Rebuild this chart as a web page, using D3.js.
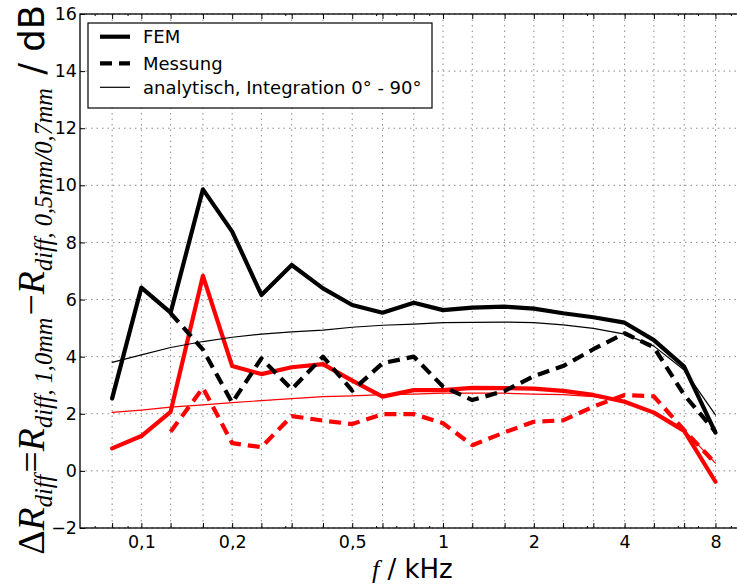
<!DOCTYPE html>
<html>
<head>
<meta charset="utf-8">
<script src="https://cdn.jsdelivr.net/npm/d3@7"></script>
<style>
  html, body { margin: 0; padding: 0; background: #fff; }
  svg { display: block; }
</style>
</head>
<body>
<svg id="chart" width="737" height="585"></svg>
<script>
// ---------------- data ----------------
const freqs = [0.08, 0.1, 0.125, 0.16, 0.2, 0.25, 0.315, 0.4, 0.5, 0.63, 0.8, 1, 1.25, 1.6, 2, 2.5, 3.15, 4, 5, 6.3, 8];
const xTickLabels = {0.1: "0,1", 0.2: "0,2", 0.5: "0,5", 1: "1", 2: "2", 4: "4", 8: "8"};
const xMinorTicks = [0.07, 0.09, 0.3, 0.6, 0.7, 0.9, 3, 6, 7, 9];
const yTicks = [-2, 0, 2, 4, 6, 8, 10, 12, 14, 16];

const femBlack = [2.54, 6.42, 5.54, 9.86, 8.38, 6.16, 7.21, 6.39, 5.81, 5.54, 5.89, 5.63, 5.72, 5.75, 5.68, 5.52, 5.38, 5.19, 4.58, 3.65, 1.34];
const femRed   = [0.79, 1.22, 2.07, 6.83, 3.67, 3.39, 3.63, 3.74, 3.16, 2.60, 2.83, 2.83, 2.91, 2.90, 2.88, 2.80, 2.66, 2.42, 2.04, 1.40, -0.38];
const messBlack = [null, null, 5.52, 4.25, 2.39, 3.94, 2.86, 4.00, 2.81, 3.77, 4.00, 2.95, 2.48, 2.80, 3.32, 3.67, 4.26, 4.82, 4.33, 2.66, 1.37];
const messRed   = [null, null, 1.37, 2.91, 0.97, 0.83, 1.92, 1.76, 1.64, 1.99, 1.99, 1.67, 0.90, 1.35, 1.72, 1.77, 2.25, 2.66, 2.61, 1.43, 0.26];
const anaBlack = [3.80, 4.06, 4.32, 4.53, 4.68, 4.79, 4.87, 4.93, 5.03, 5.10, 5.14, 5.19, 5.20, 5.21, 5.19, 5.11, 4.99, 4.79, 4.37, 3.53, 1.96];
const anaRed   = [2.05, 2.13, 2.23, 2.31, 2.39, 2.46, 2.53, 2.60, 2.63, 2.67, 2.69, 2.72, 2.72, 2.72, 2.69, 2.67, 2.60, 2.42, 2.07, 1.43, 0.27];

const legendLabels = ["FEM", "Messung", "analytisch, Integration 0\u00B0 - 90\u00B0"];

// ---------------- layout ----------------
const pL = 80, pT = 14, pR = 744.7, pB = 528;
const svg = d3.select("#chart");
const x = d3.scaleLog().domain([0.0626, 10]).range([pL, pR]);
const y = d3.scaleLinear().domain([-2, 16]).range([pB, pT]);

const gridColor = "#8a8a8a";
const gridDash = "1.5,4";

svg.append("defs").append("clipPath").attr("id", "plotclip")
  .append("rect").attr("x", pL).attr("y", pT).attr("width", pR - pL).attr("height", pB - pT);

// grid
const grid = svg.append("g");
grid.selectAll("line.v").data(freqs).enter().append("line")
  .attr("x1", d => x(d)).attr("x2", d => x(d)).attr("y1", pT).attr("y2", pB)
  .attr("stroke", gridColor).attr("stroke-width", 1).attr("stroke-dasharray", gridDash);
grid.selectAll("line.h").data(yTicks).enter().append("line")
  .attr("x1", pL).attr("x2", pR).attr("y1", d => y(d)).attr("y2", d => y(d))
  .attr("stroke", gridColor).attr("stroke-width", 1).attr("stroke-dasharray", gridDash);

// lines
const plot = svg.append("g").attr("clip-path", "url(#plotclip)");
function drawLine(vals, color, width, dash) {
  const line = d3.line()
    .defined(d => d[1] !== null)
    .x(d => x(d[0])).y(d => y(d[1]));
  const data = freqs.map((f, i) => [f, vals[i]]);
  const p = plot.append("path").datum(data)
    .attr("d", line).attr("fill", "none")
    .attr("stroke", color).attr("stroke-width", width)
    .attr("stroke-linejoin", "round");
  if (dash) p.attr("stroke-dasharray", dash).attr("stroke-linecap", "butt");
  else p.attr("stroke-linecap", "round");
}
drawLine(femRed, "#ff0000", 4.2, null);
drawLine(messRed, "#ff0000", 4.2, "12,7");
drawLine(anaRed, "#ff0000", 1.2, null);
drawLine(femBlack, "#000", 4.2, null);
drawLine(messBlack, "#000", 4.2, "12,7");
drawLine(anaBlack, "#000", 1.2, null);

// axes
const font = "DejaVu Sans, Verdana, sans-serif";
const xAxis = d3.axisBottom(x).tickValues(freqs).tickSize(-5).tickPadding(8)
  .tickFormat(d => xTickLabels[d] || "");
const gx = svg.append("g").attr("transform", `translate(0,${pB})`).call(xAxis);
const xAxisTop = d3.axisTop(x).tickValues(freqs).tickSize(-5).tickFormat("");
const gxt = svg.append("g").attr("transform", `translate(0,${pT})`).call(xAxisTop);
const xMinor = d3.axisBottom(x).tickValues(xMinorTicks).tickSize(-2).tickFormat("");
const gxm = svg.append("g").attr("transform", `translate(0,${pB})`).call(xMinor);
const xMinorTop = d3.axisTop(x).tickValues(xMinorTicks).tickSize(-2).tickFormat("");
const gxmt = svg.append("g").attr("transform", `translate(0,${pT})`).call(xMinorTop);
const yAxis = d3.axisLeft(y).tickValues(yTicks).tickSize(-5).tickPadding(3)
  .tickFormat(d => d < 0 ? "\u2212" + Math.abs(d) : String(d));
const gy = svg.append("g").attr("transform", `translate(${pL},0)`).call(yAxis);

[gx, gxt, gxm, gxmt, gy].forEach(g => {
  g.select(".domain").remove();
  g.selectAll(".tick line").attr("stroke", "#000").attr("stroke-width", 1);
  g.selectAll("text").attr("font-family", font).attr("font-size", 17.5).attr("fill", "#000");
});

// frame
svg.append("rect").attr("x", pL).attr("y", pT).attr("width", pR - pL).attr("height", pB - pT)
  .attr("fill", "none").attr("stroke", "#000").attr("stroke-width", 1.3);

// legend
const lg = svg.append("g");
lg.append("rect").attr("x", 88).attr("y", 23).attr("width", 344).attr("height", 85)
  .attr("fill", "#fff").attr("stroke", "#000").attr("stroke-width", 1.2);
const rows = [36.7, 63.3, 87.3];
const styles = [{w: 4.2, dash: null}, {w: 4.2, dash: "12,7"}, {w: 1.2, dash: null}];
legendLabels.forEach((lab, i) => {
  const l = lg.append("line").attr("x1", 100).attr("x2", 130).attr("y1", rows[i]).attr("y2", rows[i])
    .attr("stroke", "#000").attr("stroke-width", styles[i].w);
  if (styles[i].dash) l.attr("stroke-dasharray", styles[i].dash);
  lg.append("text").attr("x", 143).attr("y", rows[i]).attr("dy", "0.36em")
    .attr("font-family", font).attr("font-size", 18).text(lab);
});

// x label
const mathFont = "Liberation Serif, DejaVu Serif, serif";
const xl = svg.append("text").attr("x", (pL + pR) / 2).attr("y", 578).attr("text-anchor", "middle")
  .attr("font-size", 26);
xl.append("tspan").attr("font-family", mathFont).attr("font-style", "italic").text("f");
xl.append("tspan").attr("font-family", font).text(" / kHz");

// y label
const yl = svg.append("text").attr("font-size", 28).attr("text-anchor", "middle");
function main(t, italic) {
  const s = yl.append("tspan").attr("font-family", mathFont).text(t);
  if (italic) s.attr("font-style", "italic");
}
function sub(t) {
  yl.append("tspan").attr("font-family", mathFont).attr("font-style", "italic")
    .attr("font-size", 18).attr("dy", 6).text(t);
  yl.append("tspan").attr("font-size", 18).attr("dy", -6).text("\u200A");
}
main("\u0394", false); main("R", true); sub("diff");
main("=", false); main("R", true); sub("diff, 1,0mm");
main("\u2212", false); main("R", true); sub("diff, 0,5mm/0,7mm");
yl.append("tspan").attr("font-family", font).attr("font-size", 26).text(" / dB");
const bb = yl.node().getBBox();
const sc = 550 / bb.width;
yl.attr("transform", `translate(44,280) rotate(-90) scale(${sc}) translate(${-(bb.x + bb.width / 2)},0)`);
</script>
</body>
</html>
